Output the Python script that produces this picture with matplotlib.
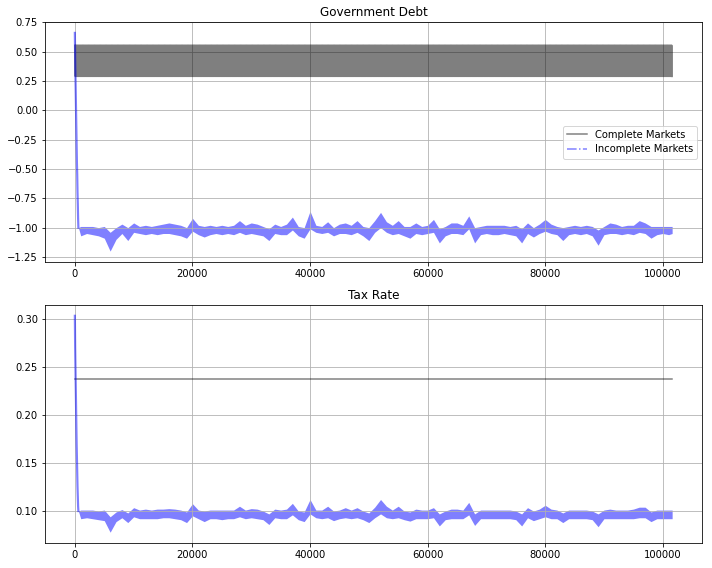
import numpy as np
import matplotlib
matplotlib.use('Agg')
import matplotlib.pyplot as plt
from matplotlib.lines import Line2D

# --- values ---

# start of the incomplete markets paths (first ~600 periods)
head_t = [0, 50, 100, 150, 200, 250, 300, 350, 400, 450, 500, 550, 600]
head_debt = [0.66, 0.45, 0.30, 0.15, 0.0, -0.15, -0.30, -0.45, -0.55, -0.70, -0.80, -0.92, -1.00]
head_tax = [0.303, 0.27, 0.25, 0.23, 0.21, 0.19, 0.17, 0.155, 0.14, 0.125, 0.115, 0.105, 0.10]

# after that the path is a dense noisy band: its upper and lower edge
# read every 1000 periods (t = 1000 ... 101000), then the last period
band_t = list(range(1000, 102000, 1000)) + [101600]
debt_upper = [
    -0.99, -0.99, -0.99, -1.00, -0.99, -1.04, -1.00, -0.97, -1.00, -0.96,
    -0.99, -0.98, -0.99, -0.98, -0.97, -0.96, -0.97, -0.98, -1.00, -0.92,
    -0.98, -0.99, -0.98, -0.99, -0.98, -0.99, -0.98, -0.94, -0.98, -0.96,
    -0.97, -0.99, -1.01, -0.97, -0.99, -0.97, -0.91, -0.99, -1.00, -0.86,
    -0.98, -0.99, -0.95, -1.00, -0.97, -0.96, -0.98, -0.94, -0.99, -1.00,
    -0.94, -0.87, -0.95, -0.98, -0.94, -0.99, -0.99, -0.96, -0.99, -0.98,
    -0.93, -1.01, -0.99, -0.96, -0.96, -0.98, -0.90, -1.00, -0.99, -0.98,
    -0.98, -0.98, -0.98, -0.99, -0.98, -1.01, -0.96, -1.00, -0.97, -0.93,
    -0.97, -0.99, -1.00, -0.99, -0.98, -0.99, -0.98, -0.99, -1.02, -0.99,
    -0.96, -0.97, -0.99, -0.98, -0.98, -0.94, -0.96, -0.99, -0.99, -0.99,
    -0.99, -0.99]
debt_lower = [
    -1.07, -1.05, -1.06, -1.07, -1.09, -1.20, -1.10, -1.05, -1.11, -1.04,
    -1.05, -1.06, -1.05, -1.06, -1.05, -1.05, -1.06, -1.07, -1.09, -1.03,
    -1.06, -1.08, -1.06, -1.05, -1.06, -1.05, -1.06, -1.04, -1.06, -1.05,
    -1.06, -1.07, -1.11, -1.05, -1.06, -1.06, -1.02, -1.07, -1.09, -1.01,
    -1.04, -1.05, -1.04, -1.07, -1.05, -1.05, -1.06, -1.04, -1.07, -1.11,
    -1.04, -1.00, -1.04, -1.06, -1.05, -1.07, -1.09, -1.05, -1.06, -1.05,
    -1.04, -1.13, -1.07, -1.05, -1.05, -1.06, -1.01, -1.13, -1.06, -1.05,
    -1.06, -1.06, -1.05, -1.06, -1.07, -1.13, -1.05, -1.08, -1.05, -1.03,
    -1.05, -1.06, -1.11, -1.06, -1.05, -1.06, -1.05, -1.07, -1.15, -1.06,
    -1.05, -1.05, -1.06, -1.05, -1.06, -1.04, -1.05, -1.09, -1.06, -1.05,
    -1.06, -1.05]
tax_upper = [
    0.101, 0.101, 0.101, 0.100, 0.101, 0.094, 0.099, 0.1015, 0.098, 0.1035,
    0.101, 0.102, 0.101, 0.102, 0.102, 0.1025, 0.102, 0.101, 0.099, 0.1076,
    0.101, 0.100, 0.101, 0.101, 0.101, 0.101, 0.101, 0.105, 0.101, 0.1025,
    0.102, 0.100, 0.097, 0.102, 0.101, 0.102, 0.108, 0.100, 0.099, 0.112,
    0.101, 0.101, 0.105, 0.100, 0.101, 0.1035, 0.101, 0.1035, 0.100, 0.098,
    0.104, 0.112, 0.105, 0.101, 0.105, 0.100, 0.099, 0.102, 0.101, 0.101,
    0.1035, 0.097, 0.100, 0.102, 0.102, 0.101, 0.109, 0.097, 0.101, 0.101,
    0.101, 0.101, 0.101, 0.101, 0.100, 0.097, 0.1035, 0.100, 0.102, 0.106,
    0.102, 0.101, 0.098, 0.101, 0.101, 0.101, 0.101, 0.100, 0.097, 0.101,
    0.102, 0.101, 0.101, 0.101, 0.102, 0.104, 0.104, 0.099, 0.101, 0.101,
    0.101, 0.101]
tax_lower = [
    0.092, 0.093, 0.092, 0.091, 0.090, 0.078, 0.089, 0.093, 0.088, 0.094,
    0.092, 0.092, 0.092, 0.092, 0.093, 0.093, 0.092, 0.091, 0.088, 0.095,
    0.092, 0.089, 0.092, 0.092, 0.091, 0.092, 0.092, 0.094, 0.092, 0.093,
    0.092, 0.091, 0.086, 0.093, 0.092, 0.092, 0.096, 0.091, 0.089, 0.097,
    0.093, 0.092, 0.093, 0.090, 0.092, 0.093, 0.092, 0.093, 0.091, 0.088,
    0.093, 0.097, 0.093, 0.092, 0.093, 0.091, 0.0895, 0.092, 0.092, 0.092,
    0.093, 0.0845, 0.091, 0.092, 0.092, 0.092, 0.096, 0.085, 0.092, 0.092,
    0.092, 0.092, 0.092, 0.092, 0.091, 0.0845, 0.093, 0.090, 0.092, 0.094,
    0.092, 0.092, 0.088, 0.092, 0.092, 0.092, 0.092, 0.091, 0.0837, 0.092,
    0.092, 0.092, 0.092, 0.092, 0.092, 0.093, 0.093, 0.089, 0.092, 0.092,
    0.092, 0.092]

# complete markets: debt switches between two levels every period, tax is flat
complete_debt_levels = [0.555, 0.289]
complete_tax_rate = [0.2375, 0.2375]


def draw_incomplete(ax, head, upper, lower):
    """Start of the path as a line, then the dense noise as a band between its edges."""
    ax.plot(head_t, head, '-', color='b', alpha=0.5, lw=2.2)
    t = [head_t[-1]] + band_t
    ax.fill_between(t, [head[-1]] + upper, [head[-1]] + lower,
                    color='b', alpha=0.5, lw=0)


def main():
    t_end = band_t[-1]
    t_comp = np.linspace(0, t_end, 1400)
    debt_comp = np.resize(complete_debt_levels, len(t_comp))

    fig = plt.figure(figsize=(712 / 72, 568 / 72), dpi=72)
    ax1 = fig.add_axes([45 / 712, 1 - 262 / 568, 657 / 712, 240 / 568])
    ax2 = fig.add_axes([45 / 712, 1 - 543 / 568, 657 / 712, 238 / 568])

    ax1.plot(t_comp, debt_comp, '-', color='k', alpha=0.5)
    draw_incomplete(ax1, head_debt, debt_upper, debt_lower)
    ax1.set_title('Government Debt')
    handles = [Line2D([], [], ls='-', color='k', alpha=0.5),
               Line2D([], [], ls='-.', color='b', alpha=0.5)]
    ax1.legend(handles, ['Complete Markets', 'Incomplete Markets'], loc='center right')
    ax1.grid(True)

    ax2.plot([0, t_end], complete_tax_rate, '-', color='k', alpha=0.5)
    draw_incomplete(ax2, head_tax, tax_upper, tax_lower)
    ax2.set_title('Tax Rate')
    ax2.grid(True)

    fig.savefig('out.png', dpi=72)


if __name__ == '__main__':
    main()
